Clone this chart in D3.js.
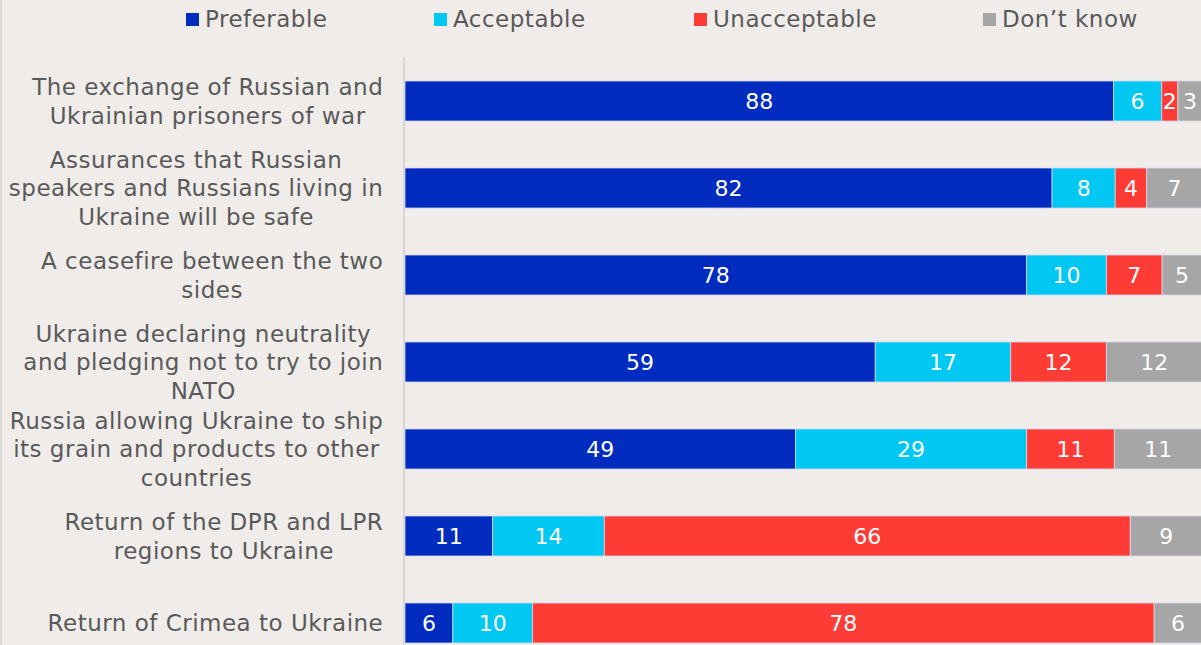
<!DOCTYPE html>
<html>
<head>
<meta charset="utf-8">
<script src="https://cdn.jsdelivr.net/npm/d3@7"></script>
<style>
  html, body { margin: 0; padding: 0; background: #efecea; }
  svg { display: block; }
  text { font-family: "DejaVu Sans", "Noto Sans", sans-serif; }
</style>
</head>
<body>
<svg id="chart" width="1201" height="645"></svg>
<script>
// Survey items (top to bottom)
const categories = [
  ["The exchange of Russian and", "Ukrainian prisoners of war"],
  ["Assurances that Russian", "speakers and Russians living in", "Ukraine will be safe"],
  ["A ceasefire between the two", "sides"],
  ["Ukraine declaring neutrality", "and pledging not to try to join", "NATO"],
  ["Russia allowing Ukraine to ship", "its grain and products to other", "countries"],
  ["Return of the DPR and LPR", "regions to Ukraine"],
  ["Return of Crimea to Ukraine"]
];
const seriesNames = ["Preferable", "Acceptable", "Unacceptable", "Don\u2019t know"];
const preferable   = [88, 82, 78, 59, 49, 11, 6];
const acceptable   = [6, 8, 10, 17, 29, 14, 10];
const unacceptable = [2, 4, 7, 12, 11, 66, 78];
const dontKnow     = [3, 7, 5, 12, 11, 9, 6];
const colors = ["#002bbf", "#00c8f2", "#ff3b36", "#a6a6a6"];

const svg = d3.select("#chart");
const W = 1201, H = 645;

svg.append("rect").attr("width", W).attr("height", H).attr("fill", "#efecea");
svg.append("rect").attr("x", 0).attr("y", 0).attr("width", 2).attr("height", H).attr("fill", "#dcdad8");

const rows = categories.map((c, i) => {
  const vals = [preferable[i], acceptable[i], unacceptable[i], dontKnow[i]];
  return { idx: i, label: c, vals, total: d3.sum(vals) };
});

const y = d3.scaleBand()
  .domain(rows.map(r => r.idx))
  .range([81, 643])
  .paddingInner(0.54)
  .paddingOuter(0);

const x = d3.scaleLinear().domain([0, 1]).range([405, 1202]);

// Category axis line
svg.append("line")
  .attr("x1", 404).attr("x2", 404)
  .attr("y1", 57).attr("y2", H)
  .attr("stroke", "#d8d6d4").attr("stroke-width", 2);

// Stacked segments, each row normalised to its own total
const stackRows = rows.map(r => {
  let acc = 0;
  return r.vals.map((v, k) => {
    const seg = { row: r.idx, k, v, x0: acc / r.total, x1: (acc + v) / r.total };
    acc += v;
    return seg;
  });
});

const g = svg.append("g");
stackRows.forEach(segs => {
  const rg = g.append("g");
  rg.selectAll("rect").data(segs).join("rect")
    .attr("x", d => x(d.x0))
    .attr("y", d => y(d.row))
    .attr("width", d => x(d.x1) - x(d.x0))
    .attr("height", y.bandwidth())
    .attr("fill", d => colors[d.k])
    .attr("stroke", "#d6d9ee")
    .attr("stroke-width", 0.8);
  rg.selectAll("text").data(segs).join("text")
    .attr("x", d => (x(d.x0) + x(d.x1)) / 2)
    .attr("y", d => y(d.row) + y.bandwidth() / 2)
    .attr("dy", "0.36em")
    .attr("text-anchor", "middle")
    .attr("fill", "#ffffff")
    .attr("font-size", 22)
    .text(d => d.v);
});

// Category labels: block right-aligned to the axis, lines centred within the block
const lineH = 28.5;
const labelRight = 383;
rows.forEach(r => {
  const cy = y(r.idx) + y.bandwidth() / 2;
  const n = r.label.length;
  const t = svg.append("text")
    .attr("text-anchor", "middle")
    .attr("fill", "#595959")
    .attr("font-size", 23)
    .attr("letter-spacing", 0.5);
  const spans = r.label.map((line, j) =>
    t.append("tspan")
      .attr("y", cy + (j - (n - 1) / 2) * lineH)
      .attr("dy", "0.36em")
      .text(line));
  const maxW = d3.max(spans, s => s.node().getComputedTextLength()) - 0.5;
  spans.forEach(s => s.attr("x", labelRight - maxW / 2));
});

// Legend
const legendX = [186, 434, 694, 983];
const lg = svg.append("g");
seriesNames.forEach((name, k) => {
  lg.append("rect")
    .attr("x", legendX[k]).attr("y", 13)
    .attr("width", 13).attr("height", 13)
    .attr("fill", colors[k]);
  lg.append("text")
    .attr("x", legendX[k] + 19).attr("y", 19)
    .attr("dy", "0.36em")
    .attr("fill", "#595959")
    .attr("font-size", 23)
    .attr("letter-spacing", 0.5)
    .text(name);
});
</script>
</body>
</html>
